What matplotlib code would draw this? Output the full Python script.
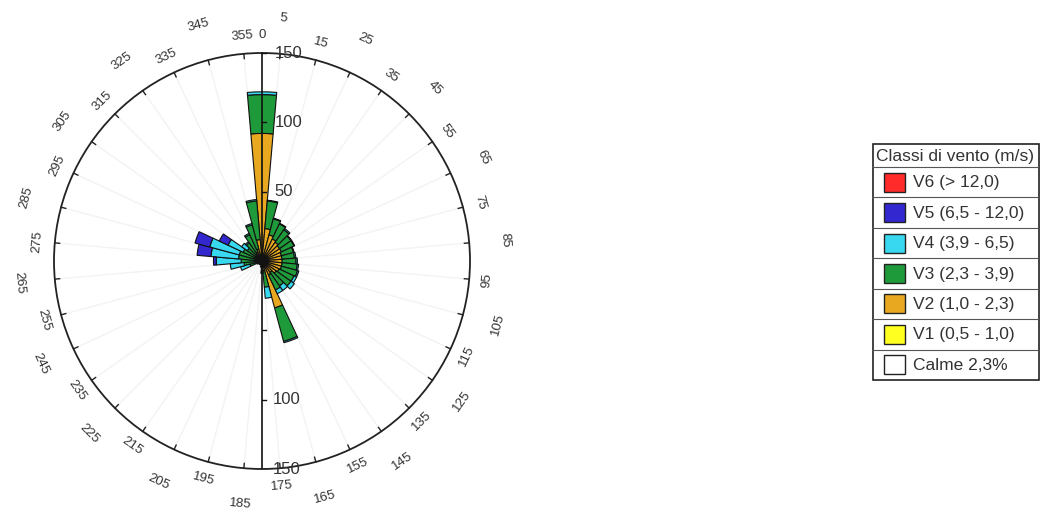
"""Wind rose with stacked speed classes and a boxed class legend -> out.png"""

import matplotlib
matplotlib.use("Agg")
import matplotlib.pyplot as plt
from matplotlib.patches import Rectangle
import numpy as np

plt.rcParams["font.family"] = ["Liberation Sans", "DejaVu Sans"]

# sector centres (deg, clockwise from north), 10 deg wide
directions = np.arange(0, 360, 10)

# frequencies per speed class, one value per sector
v1 = [2, 1.5, 1.5, 1.5, 1.5, 1.5, 1.5, 1.5, 1.5, 1.5, 1.5, 1.5, 1.5, 1.5, 1, 1, 1, 1,
      1, 0.5, 0.5, 0.5, 0.5, 0.5, 0.5, 1, 1, 1, 1, 1, 1, 1, 1, 1, 1, 1.5]
v2 = [90, 22, 18, 16, 15, 14, 14, 13, 13, 13, 13, 13, 12, 11, 9, 10, 34, 6,
      3, 1.5, 1, 1, 1, 1, 1, 2, 3, 4, 4, 4, 4, 4, 5, 6, 8, 14]
v3 = [28, 20, 12, 12, 11, 10, 10, 9, 9, 10, 11, 12, 12, 13, 12, 12, 25, 12,
      4, 2, 1, 1, 1, 1, 1.5, 6, 9, 10, 12, 12, 10, 8, 10, 14, 18, 28]
v4 = [2, 0.5, 0.5, 0.5, 1, 0.5, 0.5, 0.5, 1, 1, 1, 1, 2, 3, 4, 3, 1, 8,
      1, 0.5, 0.5, 0.5, 0.5, 0.5, 1, 7, 10, 18, 20, 22, 12, 5, 1, 1, 1, 1]
v5 = [0, 0, 0, 0, 0, 0, 0, 0, 0, 0, 0, 0, 0, 0, 0, 0, 0, 0,
      0, 0, 0, 0, 0, 0, 0, 0, 0, 2, 10, 11, 7, 0, 0, 0, 0, 0]
v6 = [0] * 36

classes = [v1, v2, v3, v4, v5, v6]
class_colors = ["#ffff20", "#e8a820", "#1f9a3a", "#38d8f0", "#3328d0", "#ff2a2a"]

legend_title = "Classi di vento (m/s)"
legend_labels = ["V6 (> 12,0)", "V5 (6,5 - 12,0)", "V4 (3,9 - 6,5)",
                 "V3 (2,3 - 3,9)", "V2 (1,0 - 2,3)", "V1 (0,5 - 1,0)", "Calme 2,3%"]
legend_colors = class_colors[::-1] + ["white"]

r_ticks_top = [50, 100, 150]
r_ticks_bottom = [50, 100, 150]
r_labels_bottom = [100, 150]
RMAX = 150

W, H = 1051, 514
fig = plt.figure(figsize=(W / 100, H / 100), dpi=100)

# rose occupies a 416 px square centred at (262, 261)
cx, cy, rad = 262, 261, 208
rect = [(cx - rad) / W, (H - cy - rad) / H, 2 * rad / W, 2 * rad / H]

ax = fig.add_axes(rect, projection="polar")
ax.set_theta_zero_location("N")
ax.set_theta_direction(-1)
ax.set_ylim(0, RMAX)
ax.grid(False)
ax.set_xticks([])
ax.set_yticks([])
ax.spines["polar"].set_linewidth(1.3)
ax.spines["polar"].set_color("#222222")

# faint spokes on the sector boundaries
for b in np.arange(5, 360, 10):
    ax.plot([np.radians(b)] * 2, [0, RMAX], color="#f3f3f3", lw=1.0, zorder=0)

theta = np.radians(directions)
width = np.radians(10)
bottom = np.zeros(len(directions))
for vals, col in zip(classes, class_colors):
    vals = np.asarray(vals, dtype=float)
    mask = vals > 0
    ax.bar(theta[mask], vals[mask], width=width, bottom=bottom[mask],
           color=col, edgecolor="#111111", linewidth=0.8, zorder=2)
    bottom += vals

# inward ticks on the outer circle
for b in np.arange(5, 360, 10):
    ax.plot([np.radians(b)] * 2, [RMAX - 3.5, RMAX], color="#222222", lw=1.0,
            clip_on=False, zorder=3)

# staggered direction labels, kept readable in the lower half
for i, b in enumerate(np.arange(5, 360, 10)):
    r = 176 if i % 2 == 0 else 163
    rot = 180 - b if 90 < b < 270 else -b
    ax.text(np.radians(b), r, str(b), rotation=rot, rotation_mode="anchor",
            ha="center", va="center", fontsize=9.5, color="#333333", clip_on=False)
ax.text(0, 163, "0", ha="center", va="center", fontsize=9.5, color="#333333",
        clip_on=False)

# vertical radial scale drawn on top in cartesian coords
ax2 = fig.add_axes(rect)
ax2.set_xlim(-RMAX, RMAX)
ax2.set_ylim(-RMAX, RMAX)
ax2.axis("off")
ax2.patch.set_alpha(0)
ax2.plot([0, 0], [-RMAX, RMAX], color="#111111", lw=1.2)
for v in r_ticks_top:
    ax2.plot([0, 3], [v, v], color="#111111", lw=1.0)
    ax2.text(9, v, str(v), ha="left", va="center", fontsize=12, color="#333333")
for v in r_ticks_bottom:
    ax2.plot([0, 3], [-v, -v], color="#111111", lw=1.0)
for v in r_labels_bottom:
    ax2.text(8, -v, str(v), ha="left", va="center", fontsize=12, color="#333333")

# boxed legend, laid out in pixel units
lx0, ly0, lw_, lh_ = 872, 143, 167, 237
lax = fig.add_axes([lx0 / W, (H - ly0 - lh_) / H, lw_ / W, lh_ / H])
lax.set_xlim(0, lw_)
lax.set_ylim(lh_, 0)
lax.axis("off")
lax.add_patch(Rectangle((0.5, 0.5), lw_ - 1, lh_ - 1, fill=False,
                        edgecolor="#222222", lw=1.2, clip_on=False))
title_h = 24
row_h = (lh_ - title_h) / len(legend_labels)
lax.text(lw_ / 2, title_h / 2 + 1, legend_title, ha="center", va="center",
         fontsize=12.5, color="#333333")
for k, (lab, col) in enumerate(zip(legend_labels, legend_colors)):
    y0 = title_h + k * row_h
    lax.plot([0, lw_], [y0, y0], color="#555555", lw=0.8)
    lax.add_patch(Rectangle((12, y0 + row_h / 2 - 9.5), 21, 19, facecolor=col,
                            edgecolor="#222222", lw=1.0))
    lax.text(41, y0 + row_h / 2 + 0.5, lab, ha="left", va="center",
             fontsize=12.5, color="#333333")

fig.savefig("out.png", dpi=100, facecolor="white")
